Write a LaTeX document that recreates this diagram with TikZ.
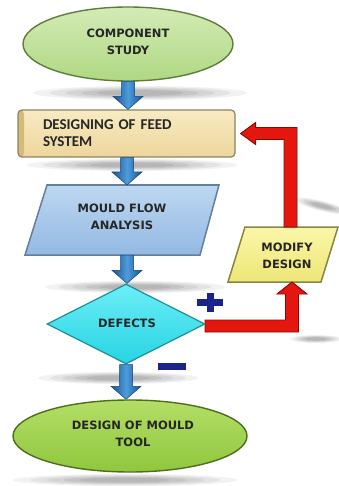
\documentclass[tikz,border=0pt]{standalone}
\usepackage{fontspec}
\setmainfont{DejaVu Sans}
\newfontfamily\carlito{Carlito}
\usetikzlibrary{shapes.geometric,calc}
\definecolor{gtop}{HTML}{D3EBB6}
\definecolor{gbot}{HTML}{AFD882}
\definecolor{gline}{HTML}{5E7D3A}
\definecolor{g2top}{HTML}{B4DE66}
\definecolor{g2bot}{HTML}{8FC73E}
\definecolor{g2line}{HTML}{4E6E1C}
\definecolor{btop}{HTML}{F8EAC2}
\definecolor{bbot}{HTML}{EDD69C}
\definecolor{bline}{HTML}{8C8262}
\definecolor{bstrip}{HTML}{D2BC7C}
\definecolor{ptop}{HTML}{BDD7F1}
\definecolor{pbot}{HTML}{93B9E2}
\definecolor{pline}{HTML}{647F9C}
\definecolor{ctop}{HTML}{6CEEF6}
\definecolor{cbot}{HTML}{27D4E3}
\definecolor{cline}{HTML}{1D8F9A}
\definecolor{ytop}{HTML}{FAF6A8}
\definecolor{ybot}{HTML}{EEE677}
\definecolor{yline}{HTML}{88863E}
\definecolor{redfill}{HTML}{E3170F}
\definecolor{redline}{HTML}{8E0505}
\definecolor{arrdark}{HTML}{175493}
\definecolor{arrlight}{HTML}{4E9BDB}
\definecolor{navy}{HTML}{1B2488}
\newcommand\softshadow[5][0]{%
  \foreach \s/\o in {1/0.05,0.85/0.06,0.7/0.06,0.55/0.07,0.4/0.07}{%
    \fill[black,opacity=\o,rotate around={#1:(#2,#3)}] (#2,#3) ellipse [x radius={\s*#4pt}, y radius={\s*#5pt}];}}
\newcommand\flowarrow[2]{%
  \path[flowshaft] let \p1=(#1), \p2=(#2) in
    (\x1-6.5pt,\y1) -- (\x1+6.5pt,\y1) -- (\x1+6.5pt,\y2+13pt) -- (\x1+15pt,\y2+13pt)
    -- (\x1,\y2) -- (\x1-15pt,\y2+13pt) -- (\x1-6.5pt,\y2+13pt) -- cycle;}
\begin{document}
\begin{tikzpicture}[x=1pt,y=-1pt,
  txt/.style={font=\bfseries\fontsize{11.5}{17.5}\selectfont, align=center, text=black!85},
  greenell/.style={ellipse, draw=gline, line width=1.4pt, top color=gtop, bottom color=gbot, inner sep=0pt},
  greenell2/.style={ellipse, draw=g2line, line width=1.4pt, top color=g2top, bottom color=g2bot, inner sep=0pt},
  feedbox/.style={rectangle, rounded corners=4pt, draw=bline, line width=1.2pt, top color=btop, bottom color=bbot,
    font=\carlito\bfseries\fontsize{15}{17}\selectfont, align=left, text width=167pt, inner xsep=25pt, inner ysep=0pt,
    minimum height=47pt, text=black!85,
    path picture={\fill[bstrip] (path picture bounding box.south west) rectangle ([xshift=6pt]path picture bounding box.north west);}},
  parashape/.style={draw=pline, line width=1.5pt, top color=ptop, bottom color=pbot},
  yellowshape/.style={draw=yline, line width=1.5pt, top color=ytop, bottom color=ybot},
  decision/.style={diamond, aspect=1.975, minimum width=158pt, minimum height=80pt, inner sep=0pt,
    draw=cline, line width=1.2pt, top color=ctop, bottom color=cbot},
  flowshaft/.style={left color=arrdark, right color=arrdark, middle color=arrlight, draw=arrdark!80!black, line width=0.5pt},
  redarrow/.style={fill=redfill, draw=redline, line width=0.9pt, line join=miter},
  signbar/.style={fill=navy, draw=none, inner sep=0pt}
]
\useasboundingbox (0,0) rectangle (339,486);
\fill[white] (0,0) rectangle (339,486);

% shadows
\softshadow{140}{93}{107}{7}
\softshadow{132}{165}{105}{6}
\softshadow{135}{287}{90}{6}
\softshadow[-14]{322}{206}{28}{5}
\softshadow{118}{378}{80}{6}
\softshadow{316}{339}{26}{4}
\softshadow{125}{480}{112}{6}

% nodes
\node[greenell, minimum width=210pt, minimum height=74pt] (top) at (128,44) {};
\node[txt] (toptext) at (128,42) {COMPONENT\\STUDY};

\node[feedbox] (feed) at (126.5,133.5) {DESIGNING OF FEED\\SYSTEM};

\path[parashape] (47,185) -- (219,185) -- (200,255) -- (25,255) -- cycle;
\coordinate (mouldtop) at (127,185);
\coordinate (mouldbot) at (127,255);
\node[txt] (mould) at (122,217) {MOULD FLOW\\ANALYSIS};

\path[yellowshape] (245,227) -- (338,227) -- (321,282) -- (228,282) -- cycle;
\coordinate (modtop) at (290.5,227);
\coordinate (modbot) at (292,282);
\node[txt] (modify) at (287,256) {MODIFY\\DESIGN};

% red forward arrow (drawn under the diamond)
\path[redarrow] let \p1=(205,324), \p2=(modbot) in
  (\x1,\y1+4pt) -- (\x2-6.5pt,\y1+4pt) -- (\x2-6.5pt,\y2-12pt) -- (\x2-15pt,\y2-12pt)
  -- (\x2,\y2) -- (\x2+15pt,\y2-12pt) -- (\x2+6.5pt,\y2-12pt) -- (\x2+6.5pt,\y1-8pt)
  -- (\x1,\y1-8pt) -- cycle;

\node[decision] (defects) at (126,324) {};
\node[txt] (deftext) at (127,323) {DEFECTS};

\node[greenell2, minimum width=234pt, minimum height=72pt] (bottom) at (130,436) {};
\node[txt] (bottomtext) at (133,434) {DESIGN OF MOULD\\TOOL};

% red return arrow
\path[redarrow] let \p1=(modtop), \p2=(feed.east) in
  (\x1+6.5pt,\y1) -- (\x1+6.5pt,\y2+6pt) -- (\x2+20pt,\y2+6pt) -- (\x2+20pt,\y2+11pt)
  -- (\x2+5pt,\y2) -- (\x2+20pt,\y2-11pt) -- (\x2+20pt,\y2-6pt) -- (\x1-6.5pt,\y2-6pt)
  -- (\x1-6.5pt,\y1) -- cycle;

% blue flow arrows
\flowarrow{top.south}{top.south |- feed.north}
\flowarrow{feed.south -| mouldtop}{mouldtop}
\flowarrow{mouldbot}{defects.north}
\flowarrow{defects.south}{defects.south |- bottom.north}

% plus and minus signs
\node[signbar, minimum width=26pt, minimum height=7pt] (plush) at (210,302) {};
\node[signbar, minimum width=7pt, minimum height=19pt] (plusv) at (210,302) {};
\node[signbar, minimum width=28pt, minimum height=7pt] (minus) at (172,366.5) {};
\end{tikzpicture}
\end{document}
